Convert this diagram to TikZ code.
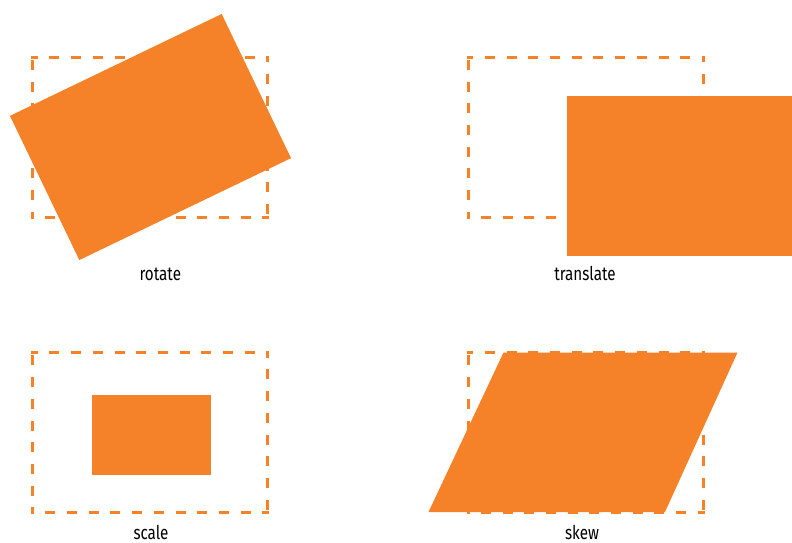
\documentclass[tikz,border=0pt]{standalone}
\usepackage{fontspec}
\setmainfont{Fira Sans}[FakeStretch=0.8]
\definecolor{shapeorange}{RGB}{245,130,40}

\tikzset{
    frame/.style={shapeorange, line width=3pt, line cap=rect, dash pattern=on 7pt off 14.7pt, dash phase=3.3pt},
    solidshape/.style={fill=shapeorange},
    caption/.style={anchor=base, inner sep=0pt, text=black, font=\fontsize{19}{19}\selectfont}
}

% dashed outline of the original 235 x 160 box, top left corner at (#1,#2)
\newcommand{\dashframe}[2]{%
    \draw[frame] (#1,#2) -- ++(235,0);
    \draw[frame] (#1+235,#2) -- ++(0,160);
    \draw[frame] (#1+235,#2+160) -- ++(-235,0);
    \draw[frame] (#1,#2+160) -- ++(0,-160);
}

\begin{document}
\begin{tikzpicture}[x=1pt, y=-1pt]
    % Fix page to 792 x 542
    \useasboundingbox (0,0) rectangle (792,542);

    % Original positions (dashed)
    \dashframe{32.5}{57}% rotate
    \dashframe{468}{57}% translate
    \dashframe{32.5}{352.5}% scale
    \dashframe{468}{352.5}% skew

    % rotate: same box turned about its centre
    \fill[solidshape, rotate around={25.7:(150.5,137)}] (33,57) rectangle (268,217);

    % translate: shifted right and down (cut at the page edge)
    \fill[solidshape] (567,96) rectangle (792,256);

    % scale: half size
    \fill[solidshape] (92,394.5) rectangle (210.5,474.5);

    % skew: top edge pushed to the right
    \fill[solidshape] (503.5,352.5) -- (737.5,352.5) -- (665,512) -- (428.5,512) -- cycle;

    % Labels
    \node[caption] (lblrotate) at (160.3,280.5) {rotate};
    \node[caption] (lbltranslate) at (585,280.5) {translate};
    \node[caption] (lblscale) at (151,539.5) {scale};
    \node[caption] (lblskew) at (582,539.5) {skew};
\end{tikzpicture}
\end{document}
